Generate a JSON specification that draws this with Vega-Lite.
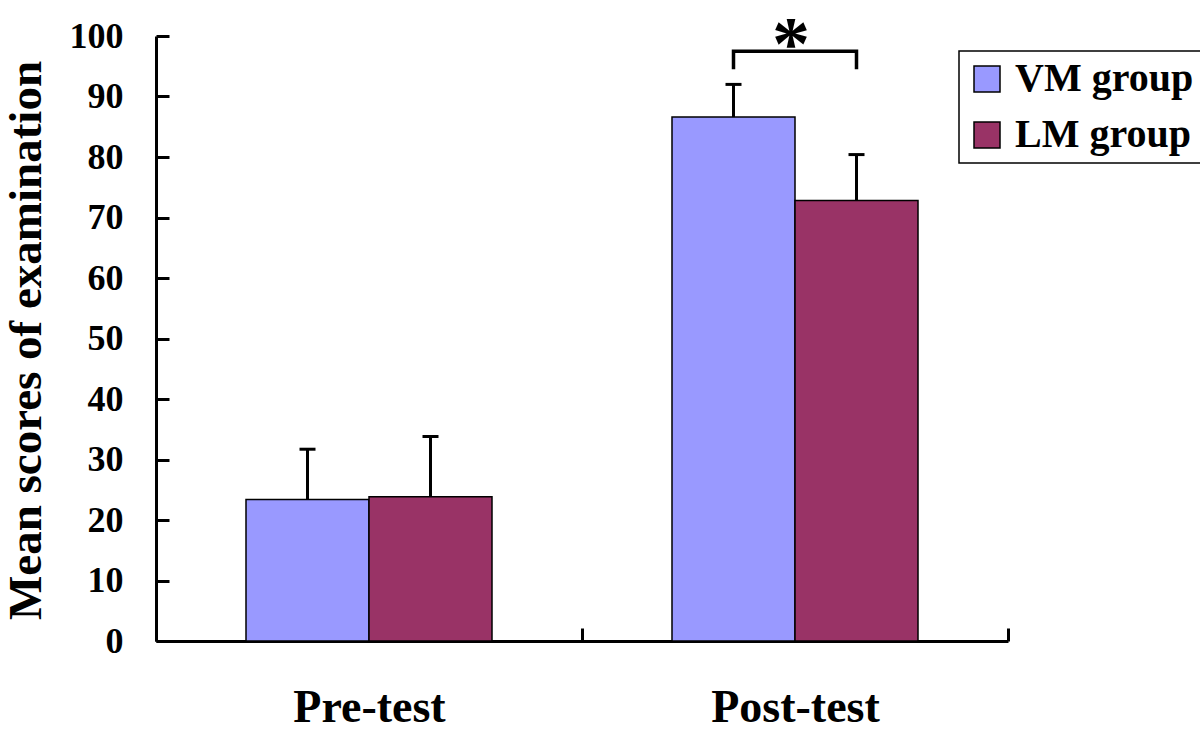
{
  "$schema": "https://vega.github.io/schema/vega-lite/v6.json",
  "width": 852,
  "height": 605,
  "autosize": {"type": "none"},
  "padding": {"left": 156, "top": 36, "right": 192, "bottom": 93},
  "background": "white",
  "config": {
    "view": {"stroke": null},
    "font": "Liberation Serif",
    "axis": {
      "grid": false,
      "domainColor": "black",
      "domainWidth": 3,
      "tickColor": "black",
      "tickWidth": 3,
      "tickSize": -13,
      "labelFont": "Liberation Serif",
      "labelFontWeight": "bold",
      "labelColor": "black",
      "titleFont": "Liberation Serif",
      "titleFontWeight": "bold",
      "titleColor": "black"
    },
    "axisX": {
      "labelFontSize": 46,
      "labelAngle": 0,
      "labelBaseline": "alphabetic",
      "labelPadding": 93,
      "tickBand": "extent"
    },
    "axisY": {
      "labelFontSize": 36,
      "labelPadding": 46,
      "titleFontSize": 47,
      "titleX": -116,
      "titleY": 304,
      "titleBaseline": "alphabetic",
      "titleAngle": -90,
      "titleAlign": "center"
    }
  },
  "datasets": {
    "scores": [
      {"cat": "Pre-test", "group": "VM group", "mean": 23.4, "upper": 31.7},
      {"cat": "Pre-test", "group": "LM group", "mean": 23.85, "upper": 33.8},
      {"cat": "Post-test", "group": "VM group", "mean": 86.6, "upper": 92.0},
      {"cat": "Post-test", "group": "LM group", "mean": 72.8, "upper": 80.4}
    ],
    "bracket": [
      {"cat": "Post-test", "group": "VM group", "y": 94.5, "o": 1},
      {"cat": "Post-test", "group": "VM group", "y": 97.5, "o": 2},
      {"cat": "Post-test", "group": "LM group", "y": 97.5, "o": 3},
      {"cat": "Post-test", "group": "LM group", "y": 94.5, "o": 4}
    ],
    "star": [
      {"cat": "Post-test", "label": "*", "y": 94.5}
    ]
  },
  "encoding": {
    "x": {
      "field": "cat",
      "type": "nominal",
      "sort": ["Pre-test", "Post-test"],
      "title": null,
      "scale": {"paddingInner": 0, "paddingOuter": 0}
    }
  },
  "layer": [
    {
      "data": {"name": "scores"},
      "mark": {"type": "bar", "stroke": "black", "strokeWidth": 1.5, "opacity": 1},
      "encoding": {
        "xOffset": {"field": "group", "type": "nominal", "sort": ["VM group", "LM group"], "scale": {"paddingInner": 0, "paddingOuter": 0.7317}},
        "y": {
          "field": "mean",
          "type": "quantitative",
          "title": "Mean scores of examination",
          "scale": {"domain": [0, 100], "nice": false},
          "axis": {"values": [0, 10, 20, 30, 40, 50, 60, 70, 80, 90, 100]}
        },
        "color": {
          "field": "group",
          "type": "nominal",
          "sort": ["VM group", "LM group"],
          "scale": {"domain": ["VM group", "LM group"], "range": ["#9999FF", "#993366"]},
          "legend": {
            "title": null,
            "orient": "none",
            "legendX": 803,
            "legendY": 15,
            "strokeColor": "black",
            "fillColor": "white",
            "padding": 8,
            "symbolType": "square",
            "symbolSize": 676,
            "symbolStrokeColor": "black",
            "symbolStrokeWidth": 1.5,
            "symbolOpacity": 1,
            "labelFont": "Liberation Serif",
            "labelFontSize": 40,
            "labelFontWeight": "bold",
            "labelColor": "black",
            "labelOffset": 8,
            "labelLimit": 0,
            "rowPadding": 16,
            "encode": {"legend": {"update": {"strokeWidth": {"value": 1.5}}}}
          }
        }
      }
    },
    {
      "data": {"name": "scores"},
      "mark": {"type": "rule", "color": "black", "strokeWidth": 3},
      "encoding": {
        "xOffset": {"field": "group", "type": "nominal", "sort": ["VM group", "LM group"]},
        "y": {"field": "mean", "type": "quantitative", "title": "Mean scores of examination"},
        "y2": {"field": "upper"}
      }
    },
    {
      "data": {"name": "scores"},
      "mark": {"type": "tick", "color": "black", "thickness": 3, "size": 16, "opacity": 1},
      "encoding": {
        "xOffset": {"field": "group", "type": "nominal", "sort": ["VM group", "LM group"]},
        "y": {"field": "upper", "type": "quantitative", "title": "Mean scores of examination"}
      }
    },
    {
      "data": {"name": "bracket"},
      "mark": {"type": "line", "color": "black", "strokeWidth": 3.5},
      "encoding": {
        "xOffset": {"field": "group", "type": "nominal", "sort": ["VM group", "LM group"]},
        "y": {"field": "y", "type": "quantitative", "title": "Mean scores of examination"},
        "order": {"field": "o", "type": "quantitative"}
      }
    },
    {
      "data": {"name": "star"},
      "mark": {"type": "text", "fontSize": 76, "fontWeight": "bold", "font": "Liberation Serif", "baseline": "alphabetic", "align": "center", "dx": -4, "color": "black"},
      "encoding": {
        "y": {"field": "y", "type": "quantitative", "title": "Mean scores of examination"},
        "text": {"field": "label"}
      }
    }
  ]
}
